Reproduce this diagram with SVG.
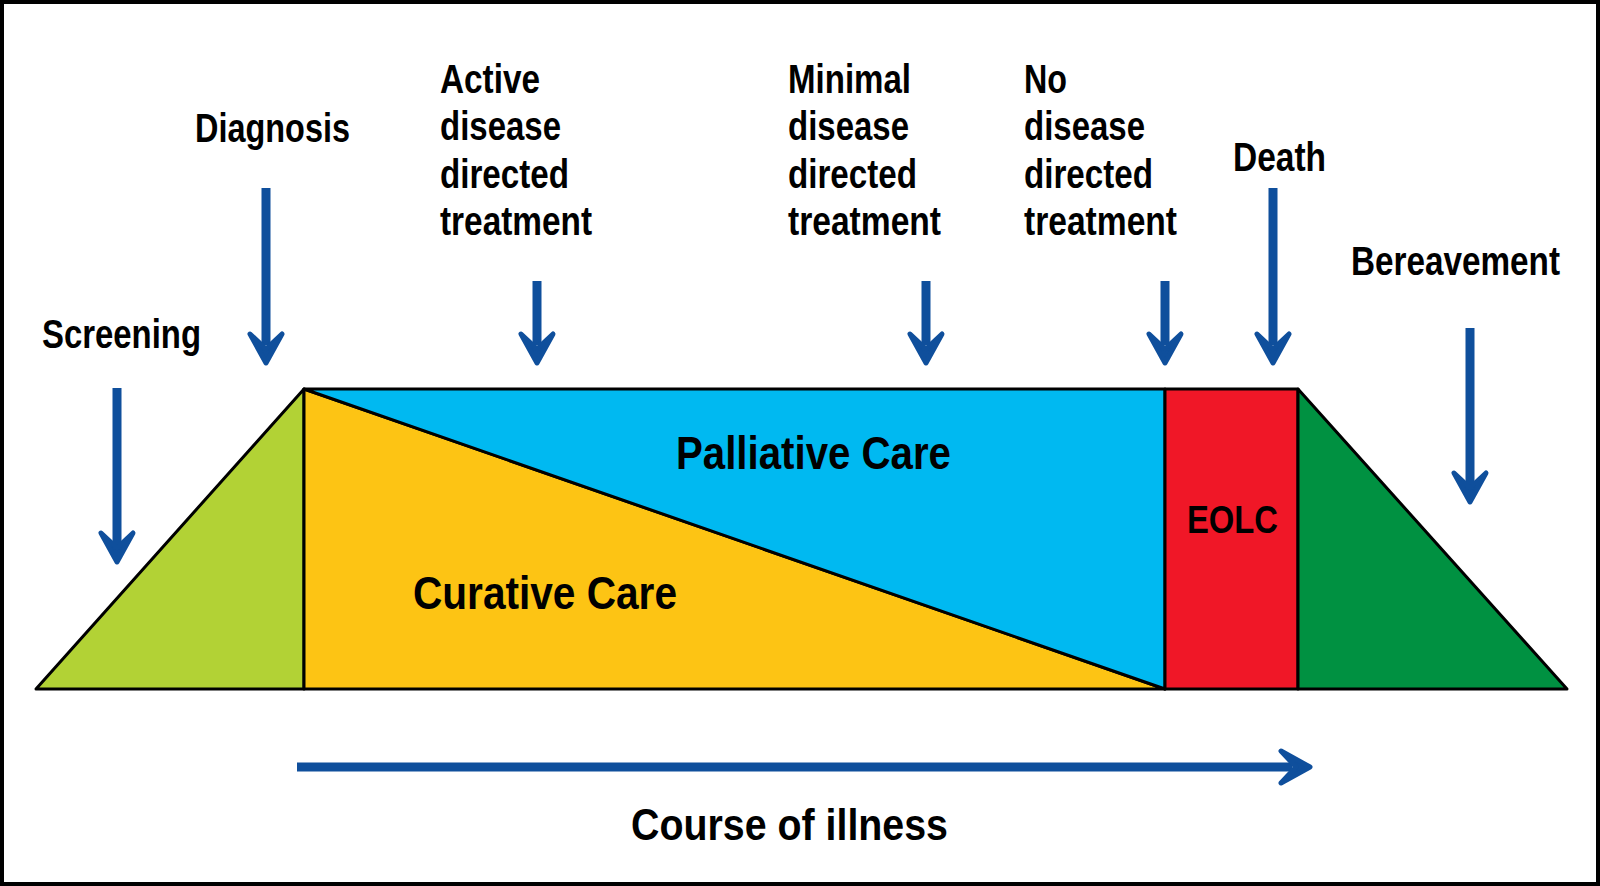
<svg xmlns="http://www.w3.org/2000/svg" xmlns:xlink="http://www.w3.org/1999/xlink" width="1600" height="886" viewBox="0 0 1600 886">
  <style>
    .lbl { font-family: "Liberation Sans Narrow", "Liberation Sans", Arial, sans-serif; font-weight: bold; fill: #000; }
    .s40 { font-size: 40px; }
    .s46 { font-size: 46px; }
    .shape { stroke: #000; stroke-width: 3; stroke-linejoin: round; }
    .shaft { stroke: #0f4f9c; stroke-width: 9; fill: none; }
    .head { fill: #0f4f9c; stroke: #0f4f9c; stroke-width: 5; stroke-linejoin: round; }
  </style>
  <defs>
    <path id="headDown" class="head" d="M0,-2 L-16,-31 L0,-16 L16,-31 Z"/>
  </defs>
  <rect x="0" y="0" width="1600" height="886" fill="#fff"/>
  <rect x="2" y="2" width="1596" height="882" fill="none" stroke="#000" stroke-width="4"/>

  <g id="stages">
    <polygon id="screening-area" class="shape" fill="#b2d235" points="36,689 304,389 304,689"/>
    <polygon id="curative-area" class="shape" fill="#fdc414" points="304,389 1165,689 304,689"/>
    <polygon id="palliative-area" class="shape" fill="#00b9f1" points="304,389 1165,389 1165,689"/>
    <rect id="eolc-area" class="shape" fill="#f01727" x="1165" y="389" width="133" height="300"/>
    <polygon id="bereavement-area" class="shape" fill="#009141" points="1298,389 1298,689 1567,689"/>
  </g>

  <g id="node-palliative"><text class="lbl s46" x="676" y="469" textLength="275" lengthAdjust="spacingAndGlyphs">Palliative Care</text></g>
  <g id="node-curative"><text class="lbl s46" x="413" y="609" textLength="264" lengthAdjust="spacingAndGlyphs">Curative Care</text></g>
  <g id="node-eolc"><text class="lbl" style="font-size:38px" x="1187" y="533" textLength="91" lengthAdjust="spacingAndGlyphs">EOLC</text></g>

  <g id="node-screening"><text class="lbl s40" x="42" y="348" textLength="159" lengthAdjust="spacingAndGlyphs">Screening</text></g>
  <g id="node-diagnosis"><text class="lbl s40" x="195" y="142" textLength="155" lengthAdjust="spacingAndGlyphs">Diagnosis</text></g>
  <g id="node-active">
    <text class="lbl s40" x="440" y="93" textLength="100" lengthAdjust="spacingAndGlyphs">Active</text>
    <text class="lbl s40" x="440" y="140" textLength="121" lengthAdjust="spacingAndGlyphs">disease</text>
    <text class="lbl s40" x="440" y="188" textLength="129" lengthAdjust="spacingAndGlyphs">directed</text>
    <text class="lbl s40" x="440" y="235" textLength="152" lengthAdjust="spacingAndGlyphs">treatment</text>
  </g>
  <g id="node-minimal">
    <text class="lbl s40" x="788" y="93" textLength="123" lengthAdjust="spacingAndGlyphs">Minimal</text>
    <text class="lbl s40" x="788" y="140" textLength="121" lengthAdjust="spacingAndGlyphs">disease</text>
    <text class="lbl s40" x="788" y="188" textLength="129" lengthAdjust="spacingAndGlyphs">directed</text>
    <text class="lbl s40" x="788" y="235" textLength="153" lengthAdjust="spacingAndGlyphs">treatment</text>
  </g>
  <g id="node-no">
    <text class="lbl s40" x="1024" y="93" textLength="43" lengthAdjust="spacingAndGlyphs">No</text>
    <text class="lbl s40" x="1024" y="140" textLength="121" lengthAdjust="spacingAndGlyphs">disease</text>
    <text class="lbl s40" x="1024" y="188" textLength="129" lengthAdjust="spacingAndGlyphs">directed</text>
    <text class="lbl s40" x="1024" y="235" textLength="153" lengthAdjust="spacingAndGlyphs">treatment</text>
  </g>
  <g id="node-death"><text class="lbl s40" x="1233" y="171" textLength="93" lengthAdjust="spacingAndGlyphs">Death</text></g>
  <g id="node-bereavement"><text class="lbl s40" x="1351" y="275" textLength="209" lengthAdjust="spacingAndGlyphs">Bereavement</text></g>
  <g id="node-course"><text class="lbl" style="font-size:45px" x="631" y="840" textLength="317" lengthAdjust="spacingAndGlyphs">Course of illness</text></g>

  <g id="connectors">
    <line class="shaft" x1="117" y1="388" x2="117" y2="545"/>
    <use xlink:href="#headDown" href="#headDown" transform="translate(117,564)"/>
    <line class="shaft" x1="266" y1="188" x2="266" y2="345"/>
    <use xlink:href="#headDown" href="#headDown" transform="translate(266,365)"/>
    <line class="shaft" x1="537" y1="281" x2="537" y2="345"/>
    <use xlink:href="#headDown" href="#headDown" transform="translate(537,365)"/>
    <line class="shaft" x1="926" y1="281" x2="926" y2="345"/>
    <use xlink:href="#headDown" href="#headDown" transform="translate(926,365)"/>
    <line class="shaft" x1="1165" y1="281" x2="1165" y2="345"/>
    <use xlink:href="#headDown" href="#headDown" transform="translate(1165,365)"/>
    <line class="shaft" x1="1273" y1="188" x2="1273" y2="345"/>
    <use xlink:href="#headDown" href="#headDown" transform="translate(1273,365)"/>
    <line class="shaft" x1="1470" y1="328" x2="1470" y2="485"/>
    <use xlink:href="#headDown" href="#headDown" transform="translate(1470,504)"/>
    <line class="shaft" x1="297" y1="767" x2="1292" y2="767"/>
    <use xlink:href="#headDown" href="#headDown" transform="translate(1312,767) rotate(-90)"/>
  </g>
</svg>
